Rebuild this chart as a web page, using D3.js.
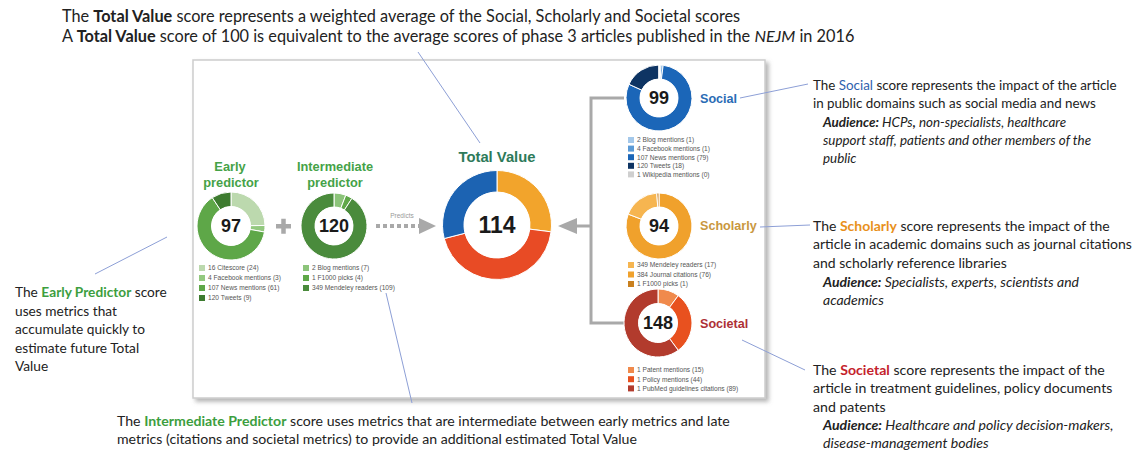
<!DOCTYPE html>
<html><head><meta charset="utf-8">
<script src="https://cdn.jsdelivr.net/npm/d3@7"></script>
<style>body{margin:0;background:#fff;} svg{display:block;}</style>
</head><body>
<svg id="c" width="1135" height="451"></svg>
<script>
// ---------- data ----------
const earlyLabels = ["16 Citescore (24)", "4 Facebook mentions (3)", "107 News mentions (61)", "120 Tweets (9)"];
const earlyValues = [24, 3, 61, 9];
const intermediateLabels = ["2 Blog mentions (7)", "1 F1000 picks (4)", "349 Mendeley readers (109)"];
const intermediateValues = [7, 4, 109];
const socialLabels = ["2 Blog mentions (1)", "4 Facebook mentions (1)", "107 News mentions (79)", "120 Tweets (18)", "1 Wikipedia mentions (0)"];
const socialValues = [1, 1, 79, 18, 0];
const scholarlyLabels = ["349 Mendeley readers (17)", "384 Journal citations (76)", "1 F1000 picks (1)"];
const scholarlyValues = [17, 76, 1];
const scholarlyPieOrder = [1, 0, 2];
const societalLabels = ["1 Patent mentions (15)", "1 Policy mentions (44)", "1 PubMed guidelines citations (89)"];
const societalValues = [15, 44, 89];
const totalParts = ["Scholarly", "Societal", "Social"];
const totalShares = [27, 44, 29];
const scoreNames = ["Early predictor", "Intermediate predictor", "Total Value", "Social", "Scholarly", "Societal"];
const scoreValues = [97, 120, 114, 99, 94, 148];

// ---------- styles ----------
const earlyColors = ["#bcd9ae", "#93c97f", "#5ea748", "#3d7b2f"];
const intermediateColors = ["#8cc47a", "#5fa848", "#4a8b3c"];
const socialColors = ["#a4c8ea", "#5b9ad6", "#1b66b8", "#0e3463", "#cfcfcf"];
const scholarlyColors = ["#f6b550", "#f0a12c", "#c9801f"];
const societalColors = ["#f08a4c", "#e8511f", "#b23b2d"];
const totalColors = ["#f2a42c", "#e84b25", "#1c63b2"];
const GREEN = "#3c9e3e", BLUE = "#2f62ae", ORANGE = "#e8901c", RED = "#c4222b";
const TXT = "Lato, 'Open Sans', sans-serif";
const ARIAL = "'Liberation Sans', Arial, sans-serif";

const svg = d3.select("#c");
const defs = svg.append("defs");
const flt = defs.append("filter").attr("id", "sh").attr("x", "-5%").attr("y", "-5%").attr("width", "112%").attr("height", "115%");
flt.append("feDropShadow").attr("dx", 3).attr("dy", 3).attr("stdDeviation", 2)
  .attr("flood-color", "#777").attr("flood-opacity", 0.55);

// panel
svg.append("rect").attr("x", 193).attr("y", 60).attr("width", 572).attr("height", 338)
  .attr("fill", "#fff").attr("stroke", "#cdcdcd").attr("stroke-width", 1.5).attr("filter", "url(#sh)");

// ---------- helpers ----------
function donut(cx, cy, ro, ri, values, colors, order, label, fs) {
  const idx = order || values.map((d, i) => i);
  const data = idx.map(i => ({v: values[i], c: colors[i]}));
  const pie = d3.pie().sort(null).value(d => d.v);
  const arc = d3.arc().innerRadius(ri).outerRadius(ro);
  const g = svg.append("g").attr("transform", `translate(${cx},${cy})`);
  g.selectAll("path").data(pie(data)).join("path")
    .attr("d", arc).attr("fill", d => d.data.c)
    .attr("stroke", "#fff").attr("stroke-width", 1);
  g.append("circle").attr("r", ri).attr("fill", "#fff");
  g.append("text").attr("text-anchor", "middle").attr("dy", "0.36em")
    .attr("font-family", ARIAL).attr("font-weight", "bold").attr("font-size", fs)
    .attr("fill", "#1a1a1a").text(label);
}
function legend(x, y0, dy, labels, colors) {
  const g = svg.append("g");
  labels.forEach((l, i) => {
    const y = y0 + i * dy;
    g.append("rect").attr("x", x).attr("y", y - 3).attr("width", 6).attr("height", 6).attr("fill", colors[i]);
    g.append("text").attr("x", x + 9).attr("y", y).attr("dy", "0.35em")
      .attr("font-family", ARIAL).attr("font-size", 6.6).attr("fill", "#555").text(l);
  });
}
function textBlock(lines, x0, centers, refIdx, refWidth) {
  const g = svg.append("g").attr("font-family", TXT).attr("fill", "#222");
  const texts = lines.map((ln, i) => {
    const t = g.append("text").attr("x", x0 + (ln.indent || 0)).attr("y", centers[i]).attr("dy", "0.33em");
    ln.segs.forEach(s => {
      const ts = t.append("tspan").text(s.t);
      if (s.b) ts.attr("font-weight", "bold");
      if (s.i) ts.attr("font-style", "italic");
      if (s.c) ts.attr("fill", s.c);
    });
    return t;
  });
  g.attr("font-size", 15);
  const w = texts[refIdx].node().getComputedTextLength();
  g.attr("font-size", 15 * refWidth / w);
}
function line(x1, y1, x2, y2) {
  svg.append("line").attr("x1", x1).attr("y1", y1).attr("x2", x2).attr("y2", y2)
    .attr("stroke", "#8d9fd6").attr("stroke-width", 1);
}

// ---------- connectors ----------
const GRAY = "#a9a9a9";
svg.append("path").attr("d", "M624,98 H591 V323 H624").attr("fill", "none").attr("stroke", GRAY).attr("stroke-width", 3);
svg.append("path").attr("d", "M591,226 H575").attr("stroke", GRAY).attr("stroke-width", 3);
svg.append("path").attr("d", "M577,218 L558,226 L577,234 Z").attr("fill", GRAY);
svg.append("rect").attr("x", 276).attr("y", 224).attr("width", 15).attr("height", 4.5).attr("fill", GRAY);
svg.append("rect").attr("x", 281.25).attr("y", 218.75).attr("width", 4.5).attr("height", 15).attr("fill", GRAY);
svg.append("path").attr("d", "M376,226 H419").attr("stroke", GRAY).attr("stroke-width", 4).attr("stroke-dasharray", "4,3");
svg.append("path").attr("d", "M419,218 L436,226 L419,234 Z").attr("fill", GRAY);
svg.append("text").attr("x", 402).attr("y", 218).attr("text-anchor", "middle").attr("font-family", ARIAL)
  .attr("font-size", 6.5).attr("fill", "#999").text("Predicts");

// ---------- donuts ----------
donut(231, 226, 34, 19.5, earlyValues, earlyColors, null, scoreValues[0], 18);
donut(334, 226, 33, 19, intermediateValues, intermediateColors, null, scoreValues[1], 18);
donut(497, 225, 54.5, 33, totalShares, totalColors, null, scoreValues[2], 23);
donut(659, 98, 33, 19, socialValues, socialColors, null, scoreValues[3], 18);
donut(659, 226, 33, 19, scholarlyValues, scholarlyColors, scholarlyPieOrder, scoreValues[4], 18);
donut(658, 323, 34, 19.5, societalValues, societalColors, null, scoreValues[5], 18);

function title(x, y, txt, color, fs, anchor) {
  svg.append("text").attr("x", x).attr("y", y).attr("dy", "0.35em").attr("text-anchor", anchor || "middle")
    .attr("font-family", ARIAL).attr("font-weight", "bold").attr("font-size", fs).attr("fill", color).text(txt);
}
title(230, 167, "Early", "#45a247", 12.8);
title(231, 182.5, "predictor", "#45a247", 12.8);
title(335, 167, "Intermediate", "#45a247", 12.8);
title(335, 182.5, "predictor", "#45a247", 12.8);
title(497, 157, scoreNames[2], "#2d7a5a", 14.8);
title(700, 99, scoreNames[3], "#2b6cb5", 12.6, "start");
title(700, 226, scoreNames[4], "#c9973e", 12.6, "start");
title(700, 324, scoreNames[5], "#ad3036", 12.6, "start");

legend(199, 268, 10, earlyLabels, earlyColors);
legend(303, 268, 10, intermediateLabels, intermediateColors);
legend(628, 140, 8.6, socialLabels, socialColors);
legend(628, 265, 9.5, scholarlyLabels, scholarlyColors);
legend(628, 370, 9.2, societalLabels, societalColors);

// ---------- callout lines ----------
line(418, 52, 480, 143);
line(740, 98, 808, 84);
line(760, 227, 810, 225);
line(742, 340, 805, 370);
line(95, 274, 167, 237);
line(386, 293, 412, 403);

// ---------- annotation text ----------
textBlock([
  {segs: [{t: "The "}, {t: "Total Value", b: 1}, {t: " score represents a weighted average of the Social, Scholarly and Societal scores"}]},
  {segs: [{t: "A "}, {t: "Total Value", b: 1}, {t: " score of 100 is equivalent to the average scores of phase 3 articles published in the "}, {t: "NEJM", i: 1}, {t: " in 2016"}]}
], 62, [17, 37], 1, 793);

textBlock([
  {segs: [{t: "The "}, {t: "Early Predictor", b: 1, c: GREEN}, {t: " score"}]},
  {segs: [{t: "uses metrics that"}]},
  {segs: [{t: "accumulate quickly to"}]},
  {segs: [{t: "estimate future Total"}]},
  {segs: [{t: "Value"}]}
], 15, [292, 311, 329, 348, 366], 0, 152);

textBlock([
  {segs: [{t: "The "}, {t: "Social", c: BLUE}, {t: " score represents the impact of the article"}]},
  {segs: [{t: "in public domains such as social media and news"}]},
  {indent: 10, segs: [{t: "Audience:", b: 1, i: 1}, {t: " HCPs", i: 1}, {t: ",", b: 1, i: 1}, {t: " non-specialists, healthcare", i: 1}]},
  {indent: 10, segs: [{t: "support staff, patients and other members of the", i: 1}]},
  {indent: 10, segs: [{t: "public", i: 1}]}
], 813, [86, 104, 123, 141, 159], 0, 304);

textBlock([
  {segs: [{t: "The "}, {t: "Scholarly", b: 1, c: ORANGE}, {t: " score represents the impact of the"}]},
  {segs: [{t: "article in academic domains such as journal citations"}]},
  {segs: [{t: "and scholarly reference libraries"}]},
  {indent: 10, segs: [{t: "Audience:", b: 1, i: 1}, {t: " Specialists, experts, scientists and", i: 1}]},
  {indent: 10, segs: [{t: "academics", i: 1}]}
], 813, [226, 244, 263, 282, 300], 0, 297);

textBlock([
  {segs: [{t: "The "}, {t: "Societal", b: 1, c: RED}, {t: " score represents the impact of the"}]},
  {segs: [{t: "article in treatment guidelines, policy documents"}]},
  {segs: [{t: "and patents"}]},
  {indent: 10, segs: [{t: "Audience:", b: 1, i: 1}, {t: " Healthcare and policy decision-makers,", i: 1}]},
  {indent: 10, segs: [{t: "disease-management bodies", i: 1}]}
], 813, [370, 388, 407, 425, 443], 0, 292);

textBlock([
  {segs: [{t: "The "}, {t: "Intermediate Predictor", b: 1, c: GREEN}, {t: " score uses metrics that are intermediate between early metrics and late"}]},
  {segs: [{t: "metrics (citations and societal metrics) to provide an additional estimated Total Value"}]}
], 117, [421, 439], 0, 613);
</script>
</body></html>
